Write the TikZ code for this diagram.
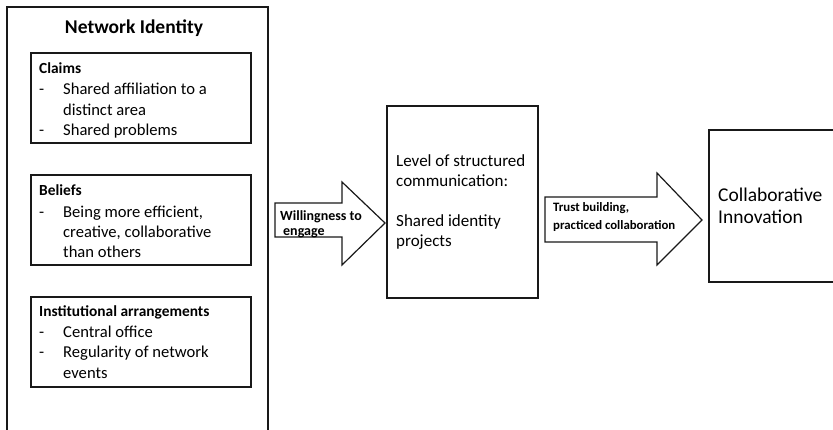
\documentclass[tikz,border=0pt]{standalone}
\usepackage{fontspec}
\setmainfont{Carlito}
\begin{document}
\begin{tikzpicture}[x=1pt,y=-1pt,
  frame/.style={draw=black!90, line width=1.2pt},
  boxnode/.style={frame, anchor=north west, inner sep=0pt, outer sep=0pt},
  body/.style={font=\fontsize{17}{20}\selectfont, anchor=base west, inner sep=0pt},
  item/.style={body, font=\fontsize{16.6}{20}\selectfont},
  head/.style={body, font=\fontsize{15.4}{20}\selectfont\bfseries},
  titlef/.style={font=\fontsize{19.5}{23}\selectfont\bfseries, anchor=base, inner sep=0pt},
  big/.style={font=\fontsize{19.5}{23}\selectfont, anchor=base west, inner sep=0pt},
  lab/.style={font=\fontsize{13}{16}\selectfont\bfseries, anchor=base west, inner sep=0pt},
  blockarrow/.style={frame, fill=white, line join=miter}
]
\useasboundingbox (0,0) rectangle (833,429);

% outer frame, open at the bottom of the page
\node[boxnode, minimum width=261, minimum height=450] (identity) at (7,7) {};
\node[titlef] (title) at (134,33) {Network Identity};

% Claims
\node[boxnode, minimum width=220, minimum height=90] (claims) at (31,53) {};
\node[head] (claimsH) at (39,73) {Claims};
\node[item] (c1d) at (39,94) {-};
\node[item] (c1) at (63,94) {Shared affiliation to a};
\node[item] (c1b) at (63,115) {distinct area};
\node[item] (c2d) at (39,135.5) {-};
\node[item] (c2) at (63,135.5) {Shared problems};

% Beliefs
\node[boxnode, minimum width=220, minimum height=90] (beliefs) at (31,175) {};
\node[head] (beliefsH) at (39,195) {Beliefs};
\node[item] (b1d) at (39,217) {-};
\node[item] (b1) at (63,217) {Being more efficient,};
\node[item] (b1b) at (63,237) {creative, collaborative};
\node[item] (b1c) at (63,257) {than others};

% Institutional arrangements
\node[boxnode, minimum width=220, minimum height=90] (inst) at (31,297) {};
\node[head] (instH) at (39,316) {Institutional arrangements};
\node[item] (i1d) at (39,337) {-};
\node[item] (i1) at (63,337) {Central office};
\node[item] (i2d) at (39,357.5) {-};
\node[item] (i2) at (63,357.5) {Regularity of network};
\node[item] (i2b) at (63,378) {events};

% structured communication
\node[boxnode, minimum width=151, minimum height=192] (comm) at (387,106) {};
\node[body] (m1) at (396,166) {Level of structured};
\node[body] (m2) at (396,186) {communication:};
\node[body] (m3) at (396,226) {Shared identity};
\node[body] (m4) at (396,246) {projects};

% outcome, running off the right edge
\node[boxnode, minimum width=140, minimum height=152] (innov) at (709,130) {};
\node[big] (r1) at (718,201) {Collaborative};
\node[big] (r2) at (718,223) {Innovation};

% block arrows
\draw[blockarrow] (275,203) -- (342,203) -- (342,182) -- (385,223)
  -- (342,265) -- (342,237) -- (275,237) -- cycle;
\node[lab, font=\fontsize{14}{16}\selectfont\bfseries] (a1) at (280,220) {Willingness to};
\node[lab, font=\fontsize{14}{16}\selectfont\bfseries] (a1b) at (283,235) {engage};

\draw[blockarrow] (545,197) -- (657,197) -- (657,173) -- (702,220)
  -- (657,265) -- (657,242) -- (545,242) -- cycle;
\node[lab, font=\fontsize{12.8}{16}\selectfont\bfseries] (a2) at (553,211.5) {Trust building,};
\node[lab, font=\fontsize{12.8}{16}\selectfont\bfseries] (a2b) at (553,229) {practiced collaboration};
\end{tikzpicture}
\end{document}
